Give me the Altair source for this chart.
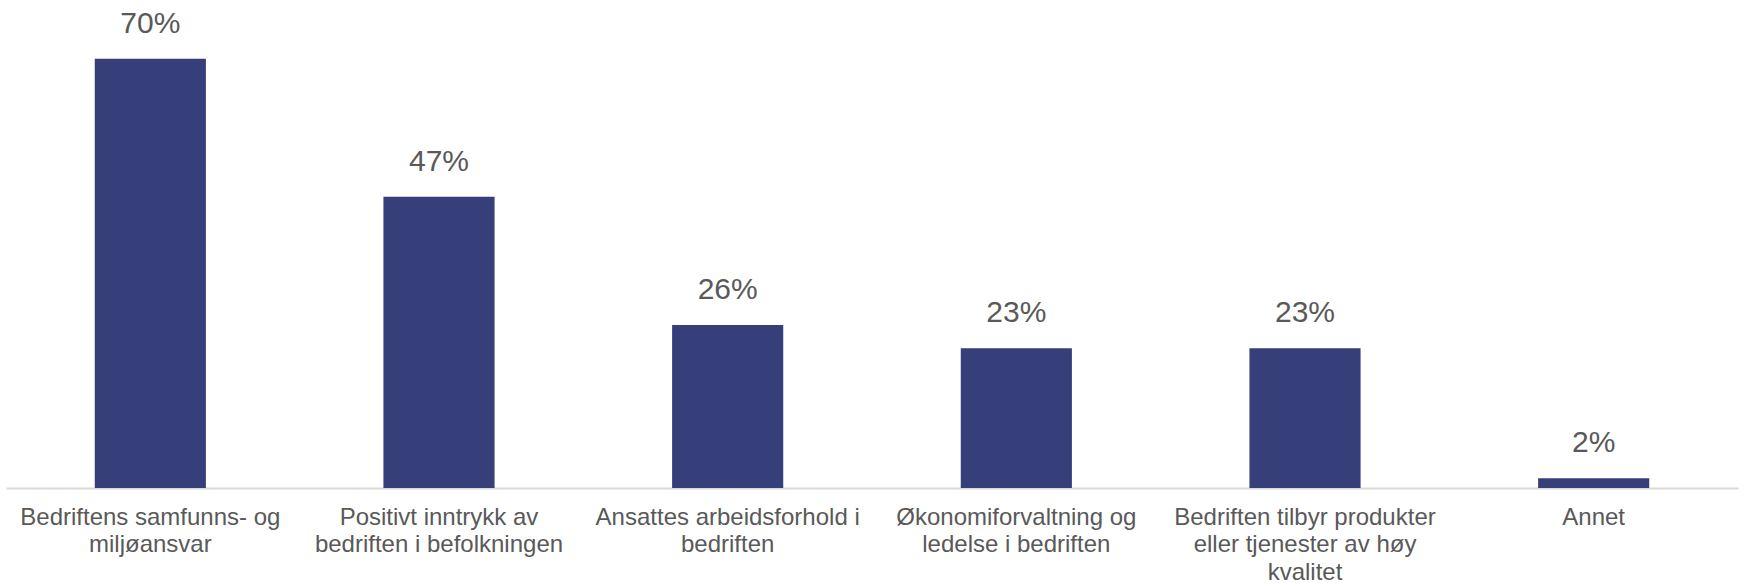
import altair as alt
import pandas as pd

categories = [
    "Bedriftens samfunns- og\nmiljøansvar",
    "Positivt inntrykk av\nbedriften i befolkningen",
    "Ansattes arbeidsforhold i\nbedriften",
    "Økonomiforvaltning og\nledelse i bedriften",
    "Bedriften tilbyr produkter\neller tjenester av høy\nkvalitet",
    "Annet",
]
values = [70, 47.5, 26.6, 22.8, 22.8, 1.6]
value_labels = ["70%", "47%", "26%", "23%", "23%", "2%"]

df = pd.DataFrame({"cat": categories, "val": values, "lab": value_labels})

FONT = "Liberation Sans"
GRAY = "#595959"

x = alt.X(
    "cat:N",
    sort=categories,
    title=None,
    scale=alt.Scale(paddingInner=0.615, paddingOuter=0.3075),
    axis=alt.Axis(
        labelAngle=0,
        ticks=False,
        domainColor="#D9D9D9",
        domainWidth=2,
        labelFont=FONT,
        labelFontSize=24,
        labelColor=GRAY,
        labelLineHeight=27.5,
        labelPadding=17,
        labelLimit=400,
        labelExpr="split(datum.label, '\\n')",
    ),
)
y = alt.Y(
    "val:Q",
    title=None,
    scale=alt.Scale(domain=[0, 79.6], nice=False),
    axis=None,
)

bars = alt.Chart(df).mark_bar(color="#363F7A").encode(x=x, y=y)
text = alt.Chart(df).mark_text(
    font=FONT, fontSize=30, color=GRAY, dy=-26, baseline="alphabetic"
).encode(x=x, y=y, text="lab:N")

chart = (
    alt.layer(bars, text)
    .properties(
        width=1732,
        height=488,
        background="white",
        padding={"left": 6, "top": 0, "right": 6, "bottom": 95},
        autosize=alt.AutoSizeParams(type="none"),
    )
    .configure_view(strokeWidth=0, stroke="transparent")
)

chart.save("out.html", embed_options={"renderer": "svg", "actions": False})
